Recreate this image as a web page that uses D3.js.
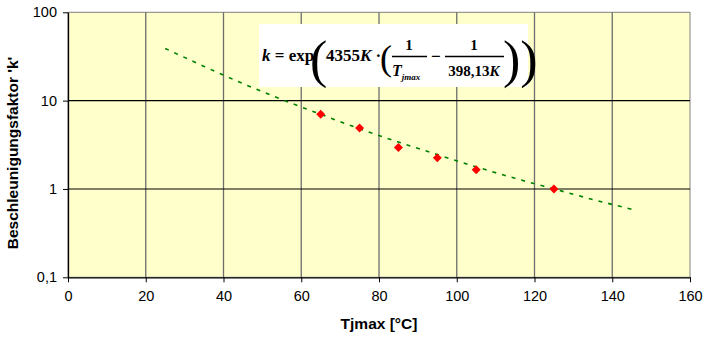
<!DOCTYPE html>
<html>
<head>
<meta charset="utf-8">
<script src="https://cdn.jsdelivr.net/npm/d3@7"></script>
<style>
  body { margin: 0; background: #fff; }
  text { font-family: "Liberation Sans", Arial, sans-serif; }
  .formula text { font-family: "Liberation Serif", "Times New Roman", serif; font-weight: bold; }
</style>
</head>
<body>
<svg id="chart" width="704" height="339"></svg>
<script>
// measured points (Tjmax in °C, factor k)
const tempC = [65, 75, 85, 95, 105, 125];
const factorK = [7.0, 4.9, 2.95, 2.25, 1.65, 1.0];

// dotted trend line
const trendC = [25, 35, 45, 55, 65, 75, 85, 95, 105, 115, 125, 135, 145];
const trendK = [39, 24.4, 15.6, 10.3, 7.0, 4.8, 3.4, 2.45, 1.78, 1.32, 1.0, 0.76, 0.59];

const xTicks = [0, 20, 40, 60, 80, 100, 120, 140, 160];
const yTicks = [0.1, 1, 10, 100];
const yTickText = ["0,1", "1", "10", "100"];

const svg = d3.select("#chart");
const plotL = 68, plotR = 690, plotT = 12.3, plotB = 277.3;

const x = d3.scaleLinear().domain([0, 160]).range([plotL, plotR]);
const y = d3.scaleLog().domain([0.1, 100]).range([plotB, plotT]);

// plot background
svg.append("rect")
  .attr("x", plotL).attr("y", plotT)
  .attr("width", plotR - plotL).attr("height", plotB - plotT)
  .attr("fill", "#ffffcc")
  .attr("stroke", "#808080").attr("stroke-width", 1);

// vertical gridlines
svg.append("g").selectAll("line")
  .data(xTicks.slice(1, -1))
  .enter().append("line")
  .attr("x1", d => x(d)).attr("x2", d => x(d))
  .attr("y1", plotT).attr("y2", plotB)
  .attr("stroke", "#6e6e6e").attr("stroke-width", 1.3);

// horizontal gridlines
svg.append("g").selectAll("line")
  .data([1, 10])
  .enter().append("line")
  .attr("x1", plotL).attr("x2", plotR)
  .attr("y1", d => y(d)).attr("y2", d => y(d))
  .attr("stroke", "#000").attr("stroke-width", 1.1);

// axes
const xAxis = d3.axisBottom(x).tickValues(xTicks).tickSizeInner(5).tickSizeOuter(0).tickPadding(8);
const gx = svg.append("g").attr("transform", "translate(0," + plotB + ")").call(xAxis);
gx.selectAll("text").style("font-size", "14.5px").attr("fill", "#000");

const yAxis = d3.axisLeft(y).tickValues(yTicks).tickFormat((d, i) => yTickText[i])
  .tickSizeInner(5).tickSizeOuter(0).tickPadding(6);
const gy = svg.append("g").attr("transform", "translate(" + plotL + ",0)").call(yAxis);
gy.selectAll("text").style("font-size", "14.5px").attr("fill", "#000");
svg.selectAll(".domain").attr("stroke", "#000").attr("stroke-width", 1.3);
svg.selectAll(".tick line").attr("stroke", "#000");

// trend line
const line = d3.line()
  .x((d, i) => x(trendC[i]))
  .y(d => y(d))
  .curve(d3.curveMonotoneX);
svg.append("path")
  .datum(trendK)
  .attr("d", line)
  .attr("fill", "none")
  .attr("stroke", "#008000")
  .attr("stroke-width", 1.6)
  .attr("stroke-dasharray", "4,6");

// measured points
svg.append("g").selectAll("path")
  .data(factorK)
  .enter().append("path")
  .attr("d", d3.symbol().type(d3.symbolSquare).size(40))
  .attr("transform", (d, i) => "translate(" + x(tempC[i]) + "," + y(d) + ") rotate(45)")
  .attr("fill", "#ff0000");

// formula box
const f = svg.append("g").attr("class", "formula");
f.append("rect").attr("x", 259).attr("y", 24).attr("width", 269).attr("height", 63).attr("fill", "#fff");
f.append("text").attr("x", 262).attr("y", 61).style("font-size", "17px")
  .html('<tspan font-style="italic">k</tspan> = exp');
f.append("text").attr("x", 310).attr("y", 77).style("font-size", "52px").style("font-weight", "normal").text("(");
f.append("text").attr("x", 326).attr("y", 61).style("font-size", "17px")
  .html('4355<tspan font-style="italic">K</tspan> ·');
f.append("text").attr("x", 380).attr("y", 70).style("font-size", "36px").style("font-weight", "normal").text("(");
f.append("text").attr("x", 409).attr("y", 50).attr("text-anchor", "middle").style("font-size", "15px").text("1");
f.append("line").attr("x1", 392).attr("x2", 427).attr("y1", 56.5).attr("y2", 56.5).attr("stroke", "#000").attr("stroke-width", 1.4);
f.append("text").attr("x", 392).attr("y", 76).style("font-size", "16px")
  .html('<tspan font-style="italic">T</tspan><tspan font-style="italic" font-size="9px" dy="4">jmax</tspan>');
f.append("text").attr("x", 431).attr("y", 62).style("font-size", "17px").text("−");
f.append("text").attr("x", 474).attr("y", 50).attr("text-anchor", "middle").style("font-size", "15px").text("1");
f.append("line").attr("x1", 445).attr("x2", 504).attr("y1", 56.5).attr("y2", 56.5).attr("stroke", "#000").attr("stroke-width", 1.4);
f.append("text").attr("x", 474).attr("y", 76).attr("text-anchor", "middle").style("font-size", "15px")
  .html('398,13<tspan font-style="italic">K</tspan>');
f.append("text").attr("x", 503).attr("y", 77).style("font-size", "52px").style("font-weight", "normal").text("))");

// axis titles
svg.append("text")
  .attr("x", 379).attr("y", 329)
  .attr("text-anchor", "middle")
  .style("font-size", "15.5px").style("font-weight", "bold")
  .text("Tjmax [°C]");

svg.append("text")
  .attr("transform", "translate(18,153) rotate(-90)")
  .attr("text-anchor", "middle")
  .style("font-size", "15.5px").style("font-weight", "bold")
  .text("Beschleunigungsfaktor 'k'");
</script>
</body>
</html>
